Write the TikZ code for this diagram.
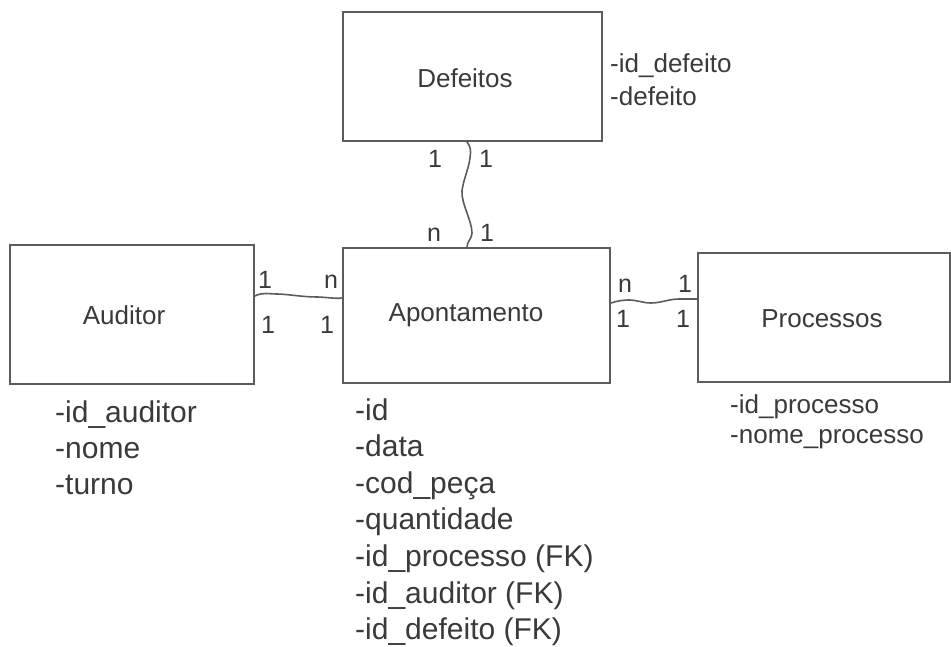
\documentclass[tikz,border=0pt]{standalone}
\usepackage{fontspec}
\setmainfont{Liberation Sans}
\definecolor{txt}{HTML}{3A3A3A}
\definecolor{ln}{HTML}{5C5C5C}
\begin{document}
\begin{tikzpicture}[x=1pt,y=-1pt,
  box/.style={draw=ln,line width=1.8pt,inner sep=0pt},
  lbl/.style={text=txt,font=\fontsize{26}{26}\selectfont,inner sep=0pt,anchor=base},
  bigattr/.style={text=txt,font=\fontsize{30}{30}\selectfont,inner sep=0pt,anchor=base west},
  smallattr/.style={text=txt,font=\fontsize{26}{26}\selectfont,inner sep=0pt,anchor=base west},
  card/.style={text=txt,font=\fontsize{25}{25}\selectfont,inner sep=0pt,anchor=base},
  conn/.style={draw=ln,line width=1.6pt,line cap=round}]
\useasboundingbox[fill=white] (0,0) rectangle (951,647);

% boxes
\node[box,minimum width=259pt,minimum height=129pt] (def) at (472.5,76.5) {};
\node[box,minimum width=244pt,minimum height=139pt] (aud) at (132,314.5) {};
\node[box,minimum width=267pt,minimum height=135pt] (apo) at (476.5,315.5) {};
\node[box,minimum width=252pt,minimum height=129pt] (pro) at (824,317.5) {};

% box labels
\node[lbl] (defl) at (465,88) {Defeitos};
\node[lbl] (audl) at (124,324) {Auditor};
\node[lbl] (apol) at (466,322) {Apontamento};
\node[lbl] (prol) at (822,327) {Processos};

% attributes
\node[smallattr] (da1) at (610,73) {-id\_defeito};
\node[smallattr] (da2) at (610,106) {-defeito};

\node[bigattr] (aa1) at (55,422) {-id\_auditor};
\node[bigattr] (aa2) at (55,458) {-nome};
\node[bigattr] (aa3) at (55,494) {-turno};

\node[bigattr] (pa1) at (355,420) {-id};
\node[bigattr] (pa2) at (355,456.6) {-data};
\node[bigattr] (pa3) at (355,493.2) {-cod\_peça};
\node[bigattr] (pa4) at (355,529.8) {-quantidade};
\node[bigattr] (pa5) at (355,566.4) {-id\_processo (FK)};
\node[bigattr] (pa6) at (355,603) {-id\_auditor (FK)};
\node[bigattr] (pa7) at (355,639.6) {-id\_defeito (FK)};

\node[smallattr] (ra1) at (730,413) {-id\_processo};
\node[smallattr] (ra2) at (730,443) {-nome\_processo};

% cardinalities
\node[card] (c1) at (435,168) {1};
\node[card] (c2) at (486,168) {1};
\node[card] (c3) at (434,242) {n};
\node[card] (c4) at (487,242) {1};

\node[card] (c5) at (265,288) {1};
\node[card] (c6) at (331,288) {n};
\node[card] (c7) at (268,333) {1};
\node[card] (c8) at (327,333) {1};

\node[card] (c9) at (625,293) {n};
\node[card] (c10) at (685,292) {1};
\node[card] (c11) at (623,327) {1};
\node[card] (c12) at (683,327) {1};

% connectors
\draw[conn] ([xshift=-5.5pt]def.south)
  .. controls +(4,6) and +(1,-8) .. ++(3,16)
  .. controls +(-1,10) and +(1,-10) .. ++(-8,33)
  .. controls +(-1,12) and +(0,-12) .. ++(10,42)
  .. controls +(0,6) and +(0,-6) .. ([xshift=-9.5pt]apo.north);

\draw[conn] ([yshift=18.5pt]aud.east)
  .. controls +(8,-4) and +(-8,0) .. ++(22,-2)
  .. controls +(10,0) and +(-15,0) .. ++(40,3)
  .. controls +(8,0) and +(-6,1) .. ([yshift=17.5pt]apo.west);

\draw[conn] ([yshift=12.5pt]apo.east)
  .. controls +(6,-2) and +(-6,0) .. ++(18,-3)
  .. controls +(8,0) and +(-8,0) .. ++(22,3)
  .. controls +(10,0) and +(-10,0) .. ++(28,-4)
  .. controls +(8,0) and +(-6,0) .. ([yshift=18.5pt]pro.west);
\end{tikzpicture}
\end{document}
